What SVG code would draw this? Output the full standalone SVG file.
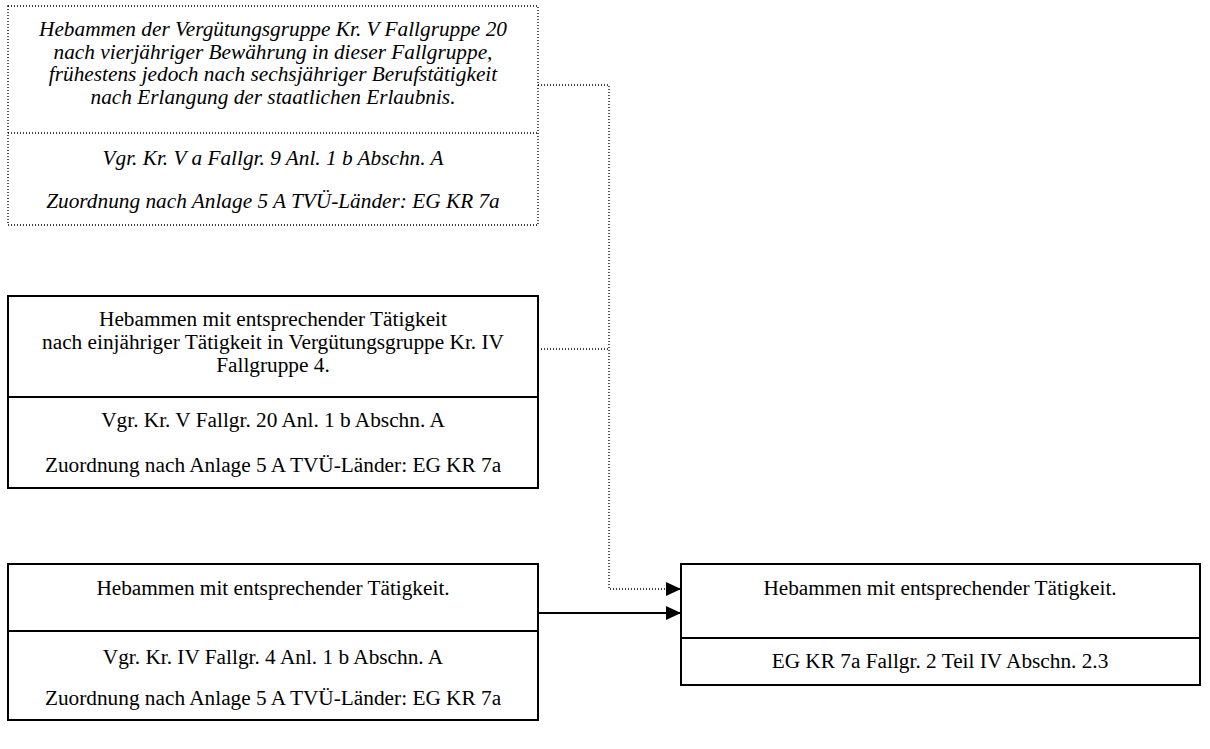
<svg xmlns="http://www.w3.org/2000/svg" width="1210" height="749" viewBox="0 0 1210 749">
<style>
.bx{fill:#fff;stroke:#000;stroke-width:2}
.dbx{fill:#fff;stroke:#000;stroke-width:1.3;stroke-dasharray:1 2}
.dl{fill:none;stroke:#000;stroke-width:1.3;stroke-dasharray:1 2}
.sl{fill:none;stroke:#000;stroke-width:2}
text{font-family:"Liberation Serif","Times New Roman",serif;font-size:21.3px;text-anchor:middle;fill:#000}
.it{font-style:italic}
</style>
<defs>
<marker id="ah" viewBox="0 0 15 14" refX="15" refY="7" markerWidth="15" markerHeight="14" markerUnits="userSpaceOnUse" orient="auto">
<path d="M0,0 L15,7 L0,14 Z" fill="#000"/>
</marker>
</defs>
<g id="connectors">
<path class="dl" d="M538,85 H609 V589 H681" marker-end="url(#ah)"/>
<path class="dl" d="M538,349 H609"/>
<path class="sl" d="M538,613 H681" marker-end="url(#ah)"/>
</g>
<g id="node1">
<rect class="dbx" x="8" y="6" width="530" height="219"/>
<line class="dl" x1="8" y1="133" x2="538" y2="133"/>
<text class="it" x="273" y="36">Hebammen der Vergütungsgruppe Kr. V Fallgruppe 20</text>
<text class="it" x="273" y="58.5">nach vierjähriger Bewährung in dieser Fallgruppe,</text>
<text class="it" x="273" y="81">frühestens jedoch nach sechsjähriger Berufstätigkeit</text>
<text class="it" x="273" y="103.5">nach Erlangung der staatlichen Erlaubnis.</text>
<text class="it" x="273" y="164.5">Vgr. Kr. V a Fallgr. 9 Anl. 1 b Abschn. A</text>
<text class="it" x="273" y="208">Zuordnung nach Anlage 5 A TVÜ-Länder: EG KR 7a</text>
</g>
<g id="node2">
<rect class="bx" x="8" y="296" width="530" height="192"/>
<line class="sl" x1="8" y1="397" x2="538" y2="397"/>
<text x="273" y="326">Hebammen mit entsprechender Tätigkeit</text>
<text x="273" y="349">nach einjähriger Tätigkeit in Vergütungsgruppe Kr. IV</text>
<text x="273" y="372">Fallgruppe 4.</text>
<text x="273" y="427">Vgr. Kr. V Fallgr. 20 Anl. 1 b Abschn. A</text>
<text x="273" y="472">Zuordnung nach Anlage 5 A TVÜ-Länder: EG KR 7a</text>
</g>
<g id="node3">
<rect class="bx" x="8" y="564" width="530" height="156"/>
<line class="sl" x1="8" y1="631" x2="538" y2="631"/>
<text x="273" y="595">Hebammen mit entsprechender Tätigkeit.</text>
<text x="273" y="664">Vgr. Kr. IV Fallgr. 4 Anl. 1 b Abschn. A</text>
<text x="273" y="705">Zuordnung nach Anlage 5 A TVÜ-Länder: EG KR 7a</text>
</g>
<g id="node4">
<rect class="bx" x="681" y="564" width="519" height="121"/>
<line class="sl" x1="681" y1="638" x2="1200" y2="638"/>
<text x="940" y="595">Hebammen mit entsprechender Tätigkeit.</text>
<text x="940" y="668">EG KR 7a Fallgr. 2 Teil IV Abschn. 2.3</text>
</g>
</svg>
